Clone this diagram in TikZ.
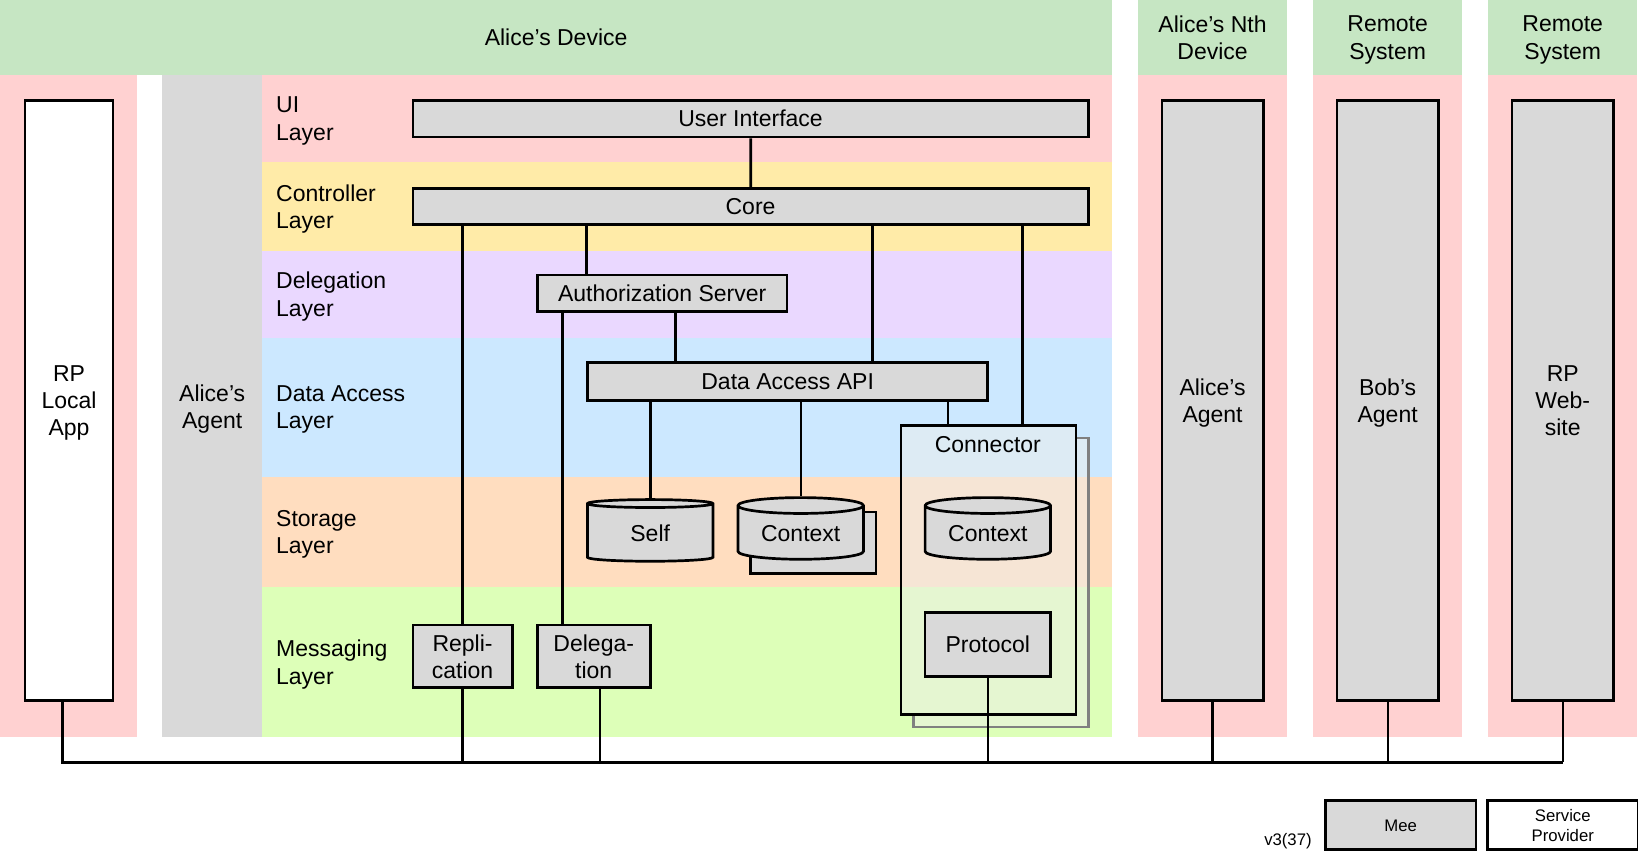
\documentclass[tikz,border=0pt]{standalone}
\usepackage{fontspec}
\setmainfont{Liberation Sans}
\usepackage{xcolor}
\usetikzlibrary{shapes.geometric}
\definecolor{cabecera}{HTML}{C6E6C3}
\definecolor{rosa}{HTML}{FFD1D1}
\definecolor{gris}{HTML}{D9D9D9}
\definecolor{amarillo}{HTML}{FFEBA8}
\definecolor{lila}{HTML}{EAD8FF}
\definecolor{celeste}{HTML}{CCE8FF}
\definecolor{durazno}{HTML}{FFDDBF}
\definecolor{lima}{HTML}{DDFFB8}
\definecolor{velo}{HTML}{EEEEEB}
\newcommand\grande{\fontsize{22}{26}\selectfont}
\newcommand\chico{\fontsize{16}{19}\selectfont}
\tikzset{
  caja/.style={draw, line width=2.7pt, fill=gris, inner sep=0pt, align=center, text depth=0pt, font=\grande},
  datos/.style={caja, cylinder, shape border rotate=90, aspect=0.2, minimum width=120, minimum height=59},
  etiqueta/.style={inner sep=0pt, align=left, anchor=west, text depth=0pt, font=\grande},
  titulo/.style={inner sep=0pt, align=center, text depth=0pt, font=\grande},
  linea/.style={line width=2.7pt}
}

\begin{document}
\begin{tikzpicture}[x=1pt, y=-1pt, scale=1.0453, transform shape]
        \useasboundingbox[fill=white] (0,0) rectangle (1567,815.1);
        % dispositivo de Alice
        \fill[cabecera] (0,0) rectangle (1064,72);
        \node[titulo] (disp) at (532,36) {Alice’s Device};
        \fill[rosa] (0,72) rectangle (131,705);
        \fill[gris] (155,72) rectangle (251,705);
        \node[titulo] (agente) at (203,389) {Alice’s\\Agent};
        % capas
        \foreach \ya/\yb/\col/\txt [count=\i] in {72/155/rosa/{UI\\Layer},
            155/240/amarillo/{Controller\\Layer}, 240/323/lila/{Delegation\\Layer},
            323/456/celeste/{Data Access\\Layer}, 456/562/durazno/{Storage\\Layer},
            562/705/lima/{Messaging\\Layer}}
        {
        \fill[\col] (251,\ya) rectangle (1064,\yb);
        \node[etiqueta] (capa\i) at (264,{(\ya+\yb)/2}) {\txt};
        }
        % otros sistemas
        \foreach \cx/\cab/\txt [count=\i] in {1160/{Alice’s Nth\\Device}/{Alice’s\\Agent},
            1327.5/{Remote\\System}/{Bob’s\\Agent}, 1495/{Remote\\System}/{RP\\Web-\\site}}
        {
        \fill[cabecera] (\cx-71.5,0) rectangle (\cx+71.5,72);
        \fill[rosa] (\cx-71.5,72) rectangle (\cx+71.5,705);
        \node[titulo] (cab\i) at (\cx,36) {\cab};
        \node[caja, minimum width=97, minimum height=574] (ag\i) at (\cx,383) {\txt};
        }
        \node[caja, fill=white, minimum width=84, minimum height=574] (rplocal) at (66,383) {RP\\Local\\App};
        % componentes
        \node[caja, minimum width=646, minimum height=35] (ui) at (718,113.5) {User Interface};
        \node[caja, minimum width=646, minimum height=35] (core) at (718,197.5) {Core};
        \node[caja, minimum width=239, minimum height=35] (auth) at (633.5,280.5) {Authorization Server};
        \node[caja, minimum width=383, minimum height=36] (api) at (753.5,365) {Data Access API};
        \node[datos] (self) at (622,510) {Self};
        \node[datos] (ctx2) at (778,520) {};
        \node[datos] (ctx) at (766,510) {Context};
        \node[caja, minimum width=95, minimum height=60] (rep) at (442.5,628) {Repli-\\cation};
        \node[caja, minimum width=108, minimum height=60] (deleg) at (568,628) {Delega-\\tion};
        % conector (con copia detras)
        \node[draw=none, fill=velo, fill opacity=0.5, minimum width=167, minimum height=276] (conn) at (945.5,545) {};
        \fill[velo, fill opacity=0.5] ([shift={(0,12)}]conn.north east) -| ([shift={(12,12)}]conn.south east)
            -| ([shift={(12,0)}]conn.south west) -- (conn.south east) -- cycle;
        \draw[gray, line width=2.2pt] ([shift={(0,12)}]conn.north east) -| ([shift={(12,12)}]conn.south east)
            -| ([shift={(12,0)}]conn.south west);
        \draw[line width=2.7pt] (conn.north west) rectangle (conn.south east);
        \node[titulo] (conntxt) at (945,425) {Connector};
        \node[datos] (cctx) at (945,510) {Context};
        \node[caja, minimum width=120, minimum height=61] (proto) at (945,616.5) {Protocol};
        % lineas
        \coordinate (bus) at (0,729);
        \draw[linea] (ui) -- (core);
        \draw[linea] (core.south -| rep.north) -- (rep.north);
        \draw[linea] (core.south -| api.west) -- (auth.north -| api.west);
        \draw[linea] (835,0 |- core.south) -- (835,0 |- api.north);
        \draw[linea] (978,0 |- core.south) -- (978,0 |- conn.north);
        \draw[linea] (538,0 |- auth.south) -- (538,0 |- deleg.north);
        \draw[linea] (646,0 |- auth.south) -- (646,0 |- api.north);
        \draw[linea] (api.south -| self.north) -- (self.north);
        \draw[linea] (api.south -| ctx.north) -- (ctx.north);
        \draw[linea] (907,0 |- api.south) -- (907,0 |- conn.north);
        % bus
        \draw[linea] (60,0 |- rplocal.south) -- (60,0 |- bus) -- (ag3.south |- bus);
        \draw[linea] (rep.south) -- (rep.south |- bus);
        \draw[linea] (574,0 |- deleg.south) -- (574,0 |- bus);
        \draw[linea] (proto.south) -- (proto.south |- bus);
        \foreach \i in {1,2,3}
        \draw[linea] (ag\i.south) -- (ag\i.south |- bus);
        % leyenda
        \node[inner sep=0pt, anchor=east, font=\chico] (ver) at (1255,805) {v3(37)};
        \node[caja, font=\chico, minimum width=144, minimum height=47] (mee) at (1340,789.5) {Mee};
        \node[caja, fill=white, font=\chico, minimum width=144, minimum height=47] (prov) at (1495,789.5) {Service\\Provider};
\end{tikzpicture}
\end{document}
